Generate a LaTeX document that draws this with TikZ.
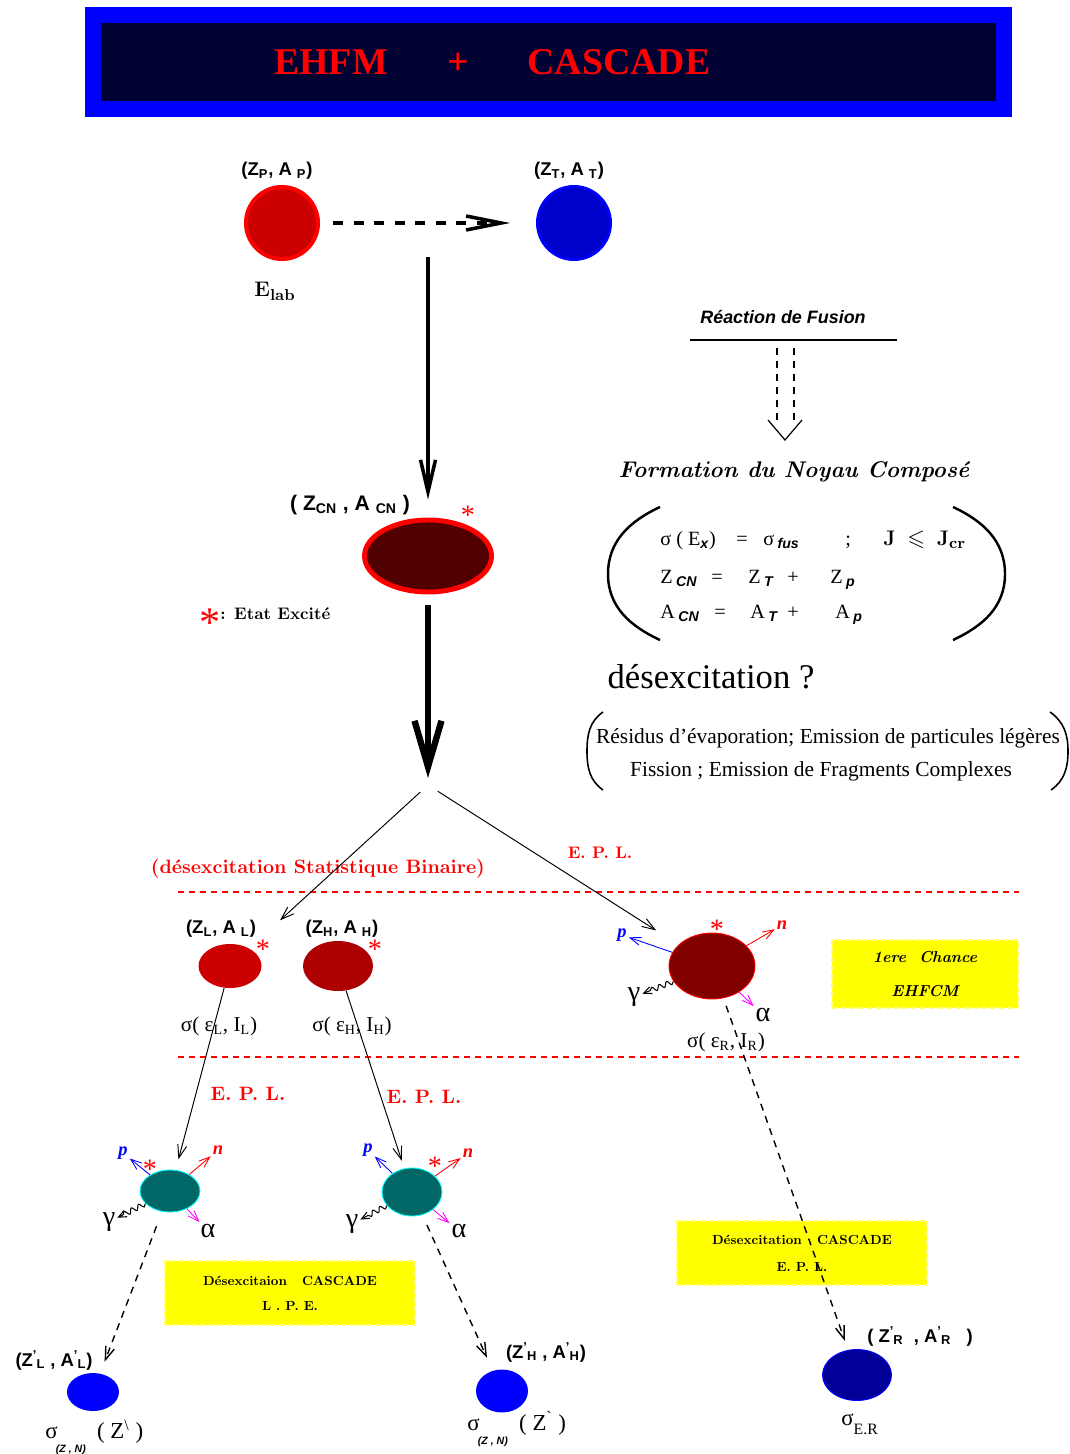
\documentclass[tikz,border=0pt]{standalone}
\usepackage[no-math]{fontspec}
\usepackage{amssymb}
\usetikzlibrary{arrows.meta, positioning, shapes.geometric, decorations.pathmorphing}
\newfontfamily\tms{Liberation Serif}
\newfontfamily\hlv{Liberation Sans}
% scalable Computer Modern bold faces
\DeclareFontFamily{OT1}{cmx}{}
\DeclareFontShape{OT1}{cmx}{bx}{n}{<->cmbx10}{}
\DeclareFontShape{OT1}{cmx}{bx}{it}{<->cmbxti10}{}
\definecolor{cblue}{HTML}{0000FF}
\definecolor{cnavy}{HTML}{000033}
\definecolor{cred}{HTML}{FF0000}
\definecolor{cruby}{HTML}{CC0000}
\definecolor{cwine}{HTML}{500000}
\definecolor{cmaroon}{HTML}{800000}
\definecolor{cteal}{HTML}{006666}
\definecolor{ccyan}{HTML}{00FFFF}
\definecolor{cmag}{HTML}{FF00FF}
\definecolor{cyell}{HTML}{FFFF00}
\definecolor{cdeep}{HTML}{000099}
\newcommand{\fsz}[1]{\fontsize{#1}{#1}\selectfont}
\newcommand{\bx}{\fontencoding{OT1}\fontfamily{cmx}\fontseries{bx}\fontshape{n}\selectfont}
\newcommand{\bxit}{\fontencoding{OT1}\fontfamily{cmx}\fontseries{bx}\fontshape{it}\selectfont}
\newcommand{\sbs}[1]{\textsubscript{\hlv\bfseries\itshape #1}}
\newcommand{\prs}[1]{\textsuperscript{’}\kern-0.5pt\textsubscript{#1}}
\tikzset{
  nuc/.style={ellipse, inner sep=0pt},
  ttl/.style={text=cred, font=\tms\bfseries\fsz{21.5}, inner sep=0pt},
  zalbl/.style={font=\hlv\bfseries\fsz{10.5}, inner sep=1pt},
  exc/.style={text=cred, font=\tms\fsz{16}, inner sep=0pt},
  epl/.style={text=cred, font=\bx\fsz{9.5}, inner sep=0pt, anchor=base},
  eq/.style={font=\tms\fsz{11.5}, inner sep=0pt, anchor=base west},
  ybox/.style={fill=cyell, draw=cyell!55!white, densely dashed, line width=0.6pt, align=center, inner sep=0pt},
  ptcl/.style={font=\tms\bfseries\itshape\fsz{10.5}, inner sep=1pt},
  greek/.style={font=\tms\fsz{16}, inner sep=1pt},
  emit/.style={-{Straight Barb[length=2.2mm, width=1.6mm]}, line width=0.5pt},
  wavy/.style={-{Straight Barb[length=1.6mm, width=1.4mm]}, line width=0.6pt, decorate,
    decoration={snake, amplitude=0.5mm, segment length=1.6mm, post length=1mm}},
  branch/.style={-{Straight Barb[length=2.6mm, width=1.8mm]}, line width=0.55pt},
  dropdash/.style={branch, line width=0.8pt, dash pattern=on 1.4mm off 1.2mm},
  sepline/.style={cred, line width=0.8pt, dash pattern=on 1.2mm off 1mm},
  paren/.style={line width=1.4pt},
}

\begin{document}
\begin{tikzpicture}[x=0.2mm, y=-0.2mm]
  \useasboundingbox (0,0) rectangle (1070,1454);

  % title banner
  \node[draw=cblue, fill=cnavy, line width=3.2mm, minimum width=182.2mm, minimum height=18.8mm, inner sep=0pt] (banner) at (548.5,62) {};
  \node[ttl] (ehfm) at (331,62) {EHFM};
  \node[ttl] (ttlplus) at (458,64) {+};
  \node[ttl] (ttlcasc) at (619,62) {CASCADE};

  % entrance channel
  \node[circle, fill=cruby, draw=cred, line width=2.3pt, minimum size=14.4mm, inner sep=0pt] (proj) at (282,223) {};
  \node[circle, fill=cblue!80!black, draw=cblue, line width=1.7pt, minimum size=14.6mm, inner sep=0pt] (targ) at (574,223) {};
  \node[zalbl] (projlbl) at (277,171) {(Z\textsubscript{P}, A\ \textsubscript{P})};
  \node[zalbl] (targlbl) at (569,171) {(Z\textsubscript{T}, A\ \textsubscript{T})};
  \node[font=\fsz{13}, inner sep=0pt] (elab) at (275,291) {$\mathbf{E}_{\mathbf{lab}}$};
  \draw[line width=2pt, dash pattern=on 2mm off 2.1mm, -{Straight Barb[length=7mm, width=2.8mm]}, shorten <=2.6mm, shorten >=5.2mm] (proj) -- (targ);

  % compound nucleus
  \coordinate (beam) at (428,257);
  \coordinate (split) at (428,785);
  \node[nuc, fill=cwine, draw=cred, line width=2.8pt, minimum width=25.4mm, minimum height=14.4mm] (cn) at (428,556) {};
  \node[font=\hlv\bfseries\fsz{12}, inner sep=0pt] (cnlbl) at (350,505) {( Z\textsubscript{CN} , A\ \textsubscript{CN} )};
  \node[exc] (cnstar) at (468,515) {*};
  \draw[line width=2pt, -{Straight Barb[length=6.4mm, width=3mm]}, shorten >=3.6mm] (beam) -- (cn);
  \draw[line width=3.6pt, -{Straight Barb[length=9.2mm, width=5.4mm]}, shorten <=2.2mm, shorten >=1.4mm] (cn) -- (split);
  \node[text=cred, font=\tms\fsz{24}, inner sep=0pt] (bigstar) at (210,623) {*};
  \node[font=\bx\fsz{9.5}, anchor=west, inner sep=0pt] (etat) at (220,614) {: Etat Excit\'e};

  % fusion
  \node[font=\hlv\bfseries\itshape\fsz{10.2}, inner sep=0pt] (fusion) at (783,317) {Réaction de Fusion};
  \draw[line width=0.8pt] (690,340) -- (897,340);
  \draw[line width=0.6pt, dash pattern=on 1.4mm off 1.2mm] (777,348) -- (777,426) (794,348) -- (794,426);
  \draw[line width=0.7pt] (768,420) -- (785,440) -- (802,420);
  \node[font=\bxit\fsz{12.9}, inner sep=0pt] (formation) at (794,472) {Formation du Noyau Compos\'e};

  \draw[paren] (660,507) to[out=205, in=90] (608,574) to[out=-90, in=155] (660,640);
  \draw[paren] (953,507) to[out=-25, in=90] (1005,574) to[out=-90, in=25] (953,640);
  \node[eq] (sigex) at (660,545) {σ ( E\sbs{x})};
  \node[eq] (eqa) at (736,545) {=};
  \node[eq] (sigfus) at (763,545) {σ\,\sbs{fus}};
  \node[eq] (semi) at (845,545) {;};
  \node[eq, font=\fsz{13}] (jcr) at (883,545) {$\mathbf{J}\;\leqslant\;\mathbf{J}_{\mathbf{cr}}$};
  \node[eq] (zcn) at (660,583) {Z\,\sbs{CN}};
  \node[eq] (eqb) at (711,583) {=};
  \node[eq] (zt) at (748,583) {Z\,\sbs{T}};
  \node[eq] (plusb) at (787,583) {+};
  \node[eq] (zp) at (830,583) {Z\,\sbs{p}};
  \node[eq] (acn) at (660,618) {A\,\sbs{CN}};
  \node[eq] (eqc) at (714,618) {=};
  \node[eq] (at) at (750,618) {A\,\sbs{T}};
  \node[eq] (plusc) at (787,618) {+};
  \node[eq] (ap) at (835,618) {A\,\sbs{p}};

  % decay channels
  \node[font=\tms\fsz{19.7}, inner sep=0pt, anchor=base] (desex) at (711,688) {désexcitation ?};
  \draw[line width=0.9pt] (603,712) to[out=215, in=90] (587,751) to[out=-90, in=145] (603,790);
  \draw[line width=0.9pt] (1050,712) to[out=-35, in=90] (1068,751) to[out=-90, in=35] (1051,790);
  \node[font=\tms\fsz{12.2}, inner sep=0pt, anchor=base] (residus) at (828,743) {Résidus d’évaporation; Emission de particules légères};
  \node[font=\tms\fsz{12.2}, inner sep=0pt, anchor=base] (fission) at (821,776) {Fission ; Emission de Fragments Complexes};

  \node[epl] (eplR) at (600,858) {E. P. L.};
  \node[epl, font=\bx\fsz{11}] (binaire) at (318,873) {(d\'esexcitation Statistique Binaire)};
  \draw[sepline] (178,892) -- (1019,892);
  \draw[sepline] (178,1057) -- (1019,1057);

  % binary fragments
  \node[nuc, fill=cruby, minimum width=12.6mm, minimum height=8.8mm] (fragL) at (230,966) {};
  \node[nuc, fill=cruby!85!black, minimum width=14mm, minimum height=10mm] (fragH) at (338,966) {};
  \node[zalbl] (fragLlbl) at (221,929) {(Z\textsubscript{L}, A\ \textsubscript{L})};
  \node[zalbl] (fragHlbl) at (342,929) {(Z\textsubscript{H}, A\ \textsubscript{H})};
  \node[exc] (fragLstar) at (263,949) {*};
  \node[exc] (fragHstar) at (375,949) {*};
  \node[font=\tms\fsz{12}, inner sep=0pt, anchor=base] (sigL) at (219,1031) {σ( ε\textsubscript{L}, I\textsubscript{L})};
  \node[font=\tms\fsz{12}, inner sep=0pt, anchor=base] (sigH) at (352,1031) {σ( ε\textsubscript{H}, I\textsubscript{H})};

  % first chance residue
  \node[nuc, fill=cmaroon, draw=cred, line width=0.5pt, minimum width=17.2mm, minimum height=13.2mm] (R) at (712,966) {};
  \node[exc] (Rstar) at (717,929) {*};
  \node[ptcl, text=cblue] (Rp) at (622,935) {p};
  \node[ptcl, text=cred] (Rn) at (782,925) {n};
  \node[greek] (Ralpha) at (763,1015) {α};
  \node[greek] (Rgamma) at (634,997) {γ};
  \draw[emit, cblue] (R) -- (Rp);
  \draw[emit, cred] (R) -- (Rn);
  \draw[emit, cmag] (R) -- (Ralpha);
  \draw[wavy] (R) -- (Rgamma);
  \node[font=\tms\fsz{12}, inner sep=0pt, anchor=base] (sigR) at (726,1047) {σ( ε\textsubscript{R}, I\textsubscript{R})};
  \node[ybox, minimum width=37.2mm, minimum height=13.6mm, font=\bxit\fontsize{9}{18.8}\selectfont] (chance) at (925,974) {1ere\ \ Chance\\ EHFCM};

  \draw[branch, shorten <=2.1mm, shorten >=8.3mm] (split) -- (fragL);
  \draw[branch, shorten <=2.3mm, shorten >=5.3mm] (split) -- (R);

  \node[epl, font=\bx\fsz{11}] (eplL) at (248,1100) {E. P. L.};
  \node[epl, font=\bx\fsz{11}] (eplH) at (424,1103) {E. P. L.};

  % cascade nuclei
  \node[nuc, fill=cteal, draw=ccyan, line width=0.5pt, minimum width=12mm, minimum height=8.4mm] (cascL) at (170,1191) {};
  \node[nuc, fill=cteal, draw=ccyan, line width=0.5pt, minimum width=12mm, minimum height=9.6mm] (cascH) at (412,1192) {};
  \node[exc] (cascLstar) at (150,1169) {*};
  \node[exc] (cascHstar) at (435,1166) {*};
  \node[ptcl, text=cblue] (cascLp) at (123,1153) {p};
  \node[ptcl, text=cred] (cascLn) at (218,1150) {n};
  \node[greek] (cascLalpha) at (208,1231) {α};
  \node[greek] (cascLgamma) at (109,1222) {γ};
  \node[ptcl, text=cblue] (cascHp) at (368,1150) {p};
  \node[ptcl, text=cred] (cascHn) at (468,1153) {n};
  \node[greek] (cascHalpha) at (459,1231) {α};
  \node[greek] (cascHgamma) at (352,1224) {γ};
  \draw[emit, cblue] (cascL) -- (cascLp);
  \draw[emit, cred] (cascL) -- (cascLn);
  \draw[emit, cmag] (cascL) -- (cascLalpha);
  \draw[wavy] (cascL) -- (cascLgamma);
  \draw[emit, cblue] (cascH) -- (cascHp);
  \draw[emit, cred] (cascH) -- (cascHn);
  \draw[emit, cmag] (cascH) -- (cascHalpha);
  \draw[wavy] (cascH) -- (cascHgamma);
  \draw[branch, shorten >=2.2mm] (fragL) -- (cascL);
  \draw[branch, shorten >=1.6mm] (fragH) -- (cascH);

  \node[ybox, minimum width=50mm, minimum height=12.8mm, font=\bx\fontsize{7.5}{14.2}\selectfont] (boxL) at (290,1293) {D\'esexcitaion\ \ \ CASCADE\\ L . P. E.};
  \node[ybox, minimum width=50mm, minimum height=12.8mm, font=\bx\fontsize{7.5}{15.4}\selectfont] (boxR) at (802,1253) {D\'esexcitation\ \ \ CASCADE\\ E. P. L.};

  % final residues
  \node[nuc, fill=cblue, minimum width=10.4mm, minimum height=7.6mm] (finL) at (93,1392) {};
  \node[nuc, fill=cblue, minimum width=10.4mm, minimum height=8.6mm] (finH) at (502,1391) {};
  \node[nuc, fill=cdeep, draw=cblue, line width=0.5pt, minimum width=13.8mm, minimum height=10.2mm] (finR) at (857,1375) {};
  \draw[dropdash, shorten <=3.1mm, shorten >=2.5mm] (cascL) -- (finL);
  \draw[dropdash, shorten <=2.2mm, shorten >=2.8mm] (cascH) -- (finH);
  \draw[dropdash, shorten <=1.6mm, shorten >=1.9mm] (R) -- (finR);
  \node[zalbl] (finLlbl) at (54,1360) {(Z\prs{L}\ , A\prs{L})};
  \node[zalbl] (finHlbl) at (546,1352) {(Z\prs{H}\ , A\prs{H})};
  \node[zalbl] (finRlbl) at (920,1336) {( Z\prs{R}\ \ , A\prs{R}\ \ \ )};
  \node[font=\tms\fsz{13}, inner sep=0pt, anchor=base west] (sigLfin) at (45,1438) {σ\kern-1pt\raisebox{-1.4ex}{\hlv\bfseries\itshape\fsz{6}(Z , N)}\ \ ( Z\textsuperscript{\textbackslash} )};
  \node[font=\tms\fsz{13}, inner sep=0pt, anchor=base west] (sigHfin) at (467,1430) {σ\kern-1pt\raisebox{-1.4ex}{\hlv\bfseries\itshape\fsz{6}(Z , N)}\ \ ( Z\textsuperscript{\textasciigrave} )};
  \node[font=\tms\fsz{13}, inner sep=0pt, anchor=base west] (sigER) at (841,1425) {σ\raisebox{-0.9ex}{\fsz{9}E.R}};
\end{tikzpicture}
\end{document}
